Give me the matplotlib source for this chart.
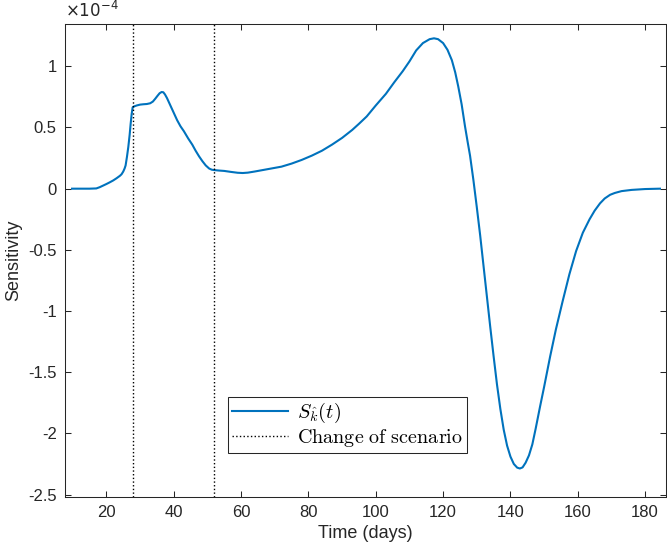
import numpy as np
import matplotlib
matplotlib.use('Agg')
import matplotlib.pyplot as plt
from matplotlib.font_manager import FontProperties

plt.rcParams['font.family'] = 'Liberation Sans'
plt.rcParams['axes.unicode_minus'] = False

# time (days) and sensitivity (x1e-4)
days = [9.8, 12, 15, 17, 18, 19, 20, 21, 22, 23, 24, 24.5, 25, 25.4, 25.7,
        26.1, 26.5, 26.9, 27.2, 27.5, 27.8, 28.2, 29, 30, 31, 32, 33, 33.8,
        34.5, 35.2, 35.8, 36.4, 36.9, 37.4, 38, 39, 40, 41, 42, 43, 44.3,
        45.5, 46.5, 47.5, 48.5, 49.5, 50.5, 51.3, 52, 53.5, 55, 57, 59, 60.5,
        62, 64, 66, 69, 72, 75, 78, 81, 84, 87, 90, 93, 95, 97.3, 100, 103,
        105.5, 108, 110, 112, 114, 116, 117.3, 118.5, 120, 121.3, 122.6,
        123.6, 124.5, 125.5, 126.5, 127.3, 128, 129, 130, 131, 132, 133, 134,
        135, 136, 137, 138, 139, 140, 141, 142, 142.8, 143.6, 144.5, 145.5,
        146.5, 147.5, 148.8, 150, 151.8, 153.5, 155.5, 157.5, 159.5, 161.5,
        163.5, 165, 166.6, 168, 169.6, 171, 173, 176, 180, 184.4]
sens = [0, 0, 0, 0.002, 0.012, 0.025, 0.038, 0.052, 0.067, 0.085, 0.105,
        0.118, 0.14, 0.165, 0.19, 0.26, 0.34, 0.44, 0.53, 0.61, 0.665, 0.672,
        0.68, 0.687, 0.69, 0.692, 0.698, 0.712, 0.735, 0.76, 0.78, 0.79,
        0.788, 0.77, 0.74, 0.68, 0.62, 0.56, 0.51, 0.47, 0.41, 0.36, 0.31,
        0.265, 0.225, 0.19, 0.165, 0.155, 0.152, 0.148, 0.145, 0.137, 0.13,
        0.128, 0.131, 0.14, 0.15, 0.165, 0.18, 0.205, 0.235, 0.27, 0.31, 0.36,
        0.415, 0.48, 0.53, 0.59, 0.68, 0.775, 0.87, 0.96, 1.04, 1.13, 1.19,
        1.222, 1.229, 1.222, 1.19, 1.135, 1.05, 0.95, 0.835, 0.69, 0.51, 0.38,
        0.27, 0.07, -0.15, -0.38, -0.63, -0.88, -1.13, -1.37, -1.6, -1.8,
        -1.97, -2.1, -2.19, -2.25, -2.28, -2.287, -2.278, -2.24, -2.18, -2.09,
        -1.96, -1.78, -1.62, -1.37, -1.15, -0.92, -0.7, -0.51, -0.36, -0.25,
        -0.18, -0.12, -0.08, -0.05, -0.035, -0.02, -0.01, -0.003, 0]
scenario_changes = [28, 52]

x_ticks = [20, 40, 60, 80, 100, 120, 140, 160, 180]
y_ticks = [-2.5, -2, -1.5, -1, -0.5, 0, 0.5, 1]
y_ticklabels = ['-2.5', '-2', '-1.5', '-1', '-0.5', '0', '0.5', '1']

fig = plt.figure(figsize=(6.67, 5.55), dpi=100)
ax = fig.add_axes([65/667, 1-497/555, 601/667, 473.5/555])

gray = (0.15, 0.15, 0.15)

ax.plot(days, sens, color='#0072BD', lw=1.5, label=r'$S_{\hat{k}}(t)$')
for i, d in enumerate(scenario_changes):
    ax.axvline(d, color='black', ls=':', lw=1.0,
               label=r'$\mathrm{Change\ of\ scenario}$' if i == 0 else None)

ax.set_xlim(7.7, 186.2)
ax.set_ylim(-2.52, 1.35)
ax.set_xticks(x_ticks)
ax.set_yticks(y_ticks)
ax.set_yticklabels(y_ticklabels)

ax.tick_params(direction='in', length=4.5, width=0.75, colors=gray,
               labelsize=12, top=True, right=True, pad=6)
for sp in ax.spines.values():
    sp.set_color(gray)
    sp.set_linewidth(0.75)

ax.set_xlabel('Time (days)', fontsize=13, color=gray, labelpad=3)
ax.set_ylabel('Sensitivity', fontsize=13, color=gray, labelpad=4)

ax.text(0.0, 1.008, r'$\times10^{-4}$', transform=ax.transAxes, fontsize=12,
        color=gray, ha='left', va='bottom', math_fontfamily='dejavusans')

leg_font = FontProperties(size=14.5, math_fontfamily='cm')
leg = ax.legend(loc='upper left', bbox_to_anchor=((228-65)/601, (497-397)/473.5),
                borderaxespad=0, prop=leg_font, fancybox=False, framealpha=1,
                edgecolor=gray, handlelength=2.8, handletextpad=0.45,
                borderpad=0.2, labelspacing=0.1)
leg.get_frame().set_linewidth(0.75)

fig.savefig('out.png', dpi=100)
